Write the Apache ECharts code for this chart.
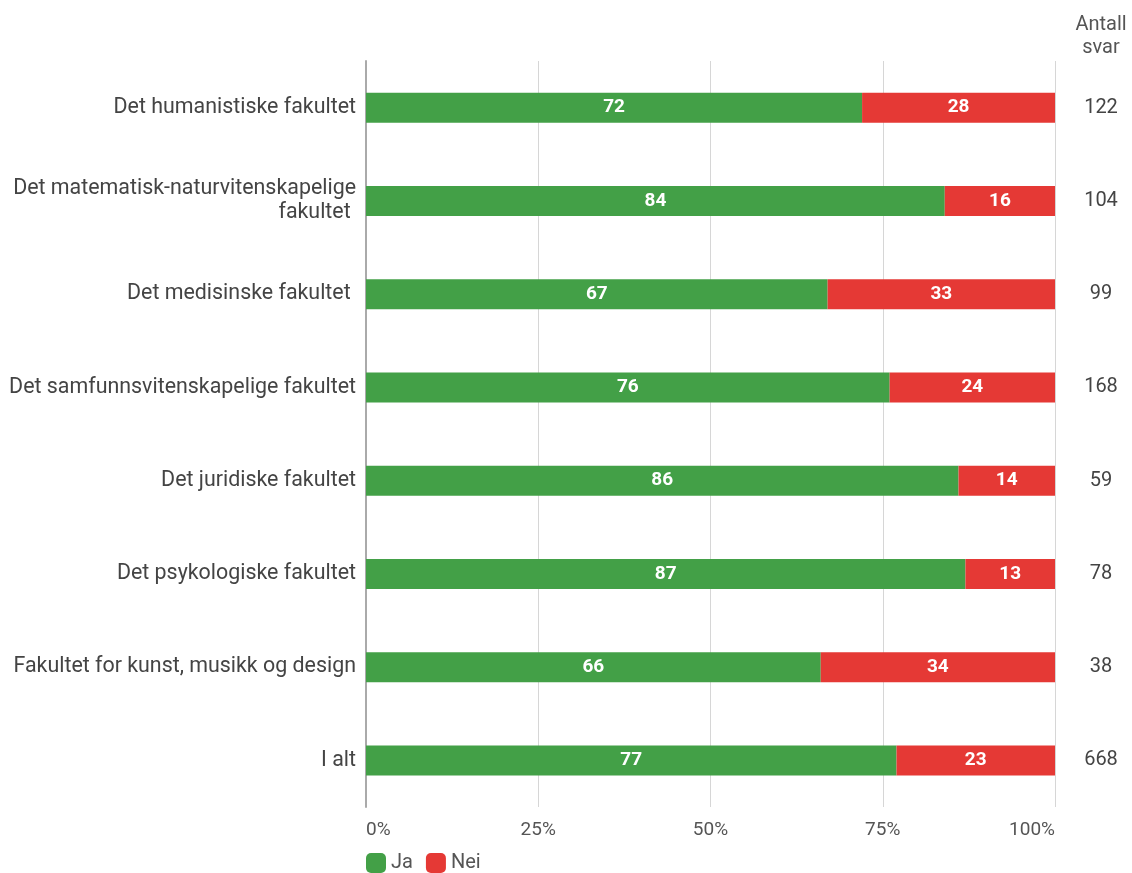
<!DOCTYPE html>
<html><head><meta charset="utf-8">
<script src="https://cdn.jsdelivr.net/npm/echarts@6/dist/echarts.min.js"></script>
<style>html,body{margin:0;padding:0;background:#fff}#c{width:1132px;height:873px}</style>
</head><body><div id="c"></div>
<script>
const categories = ["Det humanistiske fakultet","Det matematisk-naturvitenskapelige\nfakultet ","Det medisinske fakultet ","Det samfunnsvitenskapelige fakultet","Det juridiske fakultet","Det psykologiske fakultet","Fakultet for kunst, musikk og design","I alt"];
const ja = [72,84,67,76,86,87,66,77];
const nei = [28,16,33,24,14,13,34,23];
const antall = [122,104,99,168,59,78,38,668];
const xTicks = [0,25,50,75,100];

const chart = echarts.init(document.getElementById('c'));
const font = 'Roboto';
chart.setOption({
  animation:false,
  textStyle:{fontFamily:font},
  grid:{left:366,right:77,top:61,bottom:66,containLabel:false},
  legend:{left:366,top:853,padding:0,itemWidth:20,itemHeight:20,itemGap:13,icon:'roundRect',
    textStyle:{fontSize:20,color:'#555',fontFamily:font},data:['Ja','Nei']},
  graphic:[{type:'text',x:1101,y:13,style:{text:'Antall\nsvar',fill:'#555',font:'20px Roboto',align:'center',lineHeight:23}}],
  xAxis:{type:'value',min:0,max:100,interval:25,
    axisLine:{show:false},axisTick:{show:false},
    splitLine:{lineStyle:{color:'#d6d6d6',width:1}},
    axisLabel:{formatter:v=>v+'%',fontSize:19,color:'#555',margin:14,fontFamily:font,
      alignMinLabel:'left',alignMaxLabel:'right'}},
  yAxis:[{type:'category',inverse:true,data:categories,
    axisLine:{show:true,lineStyle:{color:'#aaa',width:2}},axisTick:{show:false},
    axisLabel:{fontSize:21.4,color:'#444',margin:10,lineHeight:24,fontFamily:font}},
    {type:'category',inverse:true,position:'right',data:antall.map(String),
    axisLine:{show:false},axisTick:{show:false},
    axisLabel:{fontSize:20,color:'#444',margin:46,align:'center',fontFamily:font}}],
  series:[
    {name:'Ja',type:'bar',stack:'s',barWidth:30,data:ja,itemStyle:{color:'#43a047'},
     label:{show:true,position:'inside',color:'#fff',fontWeight:'bold',fontSize:19,fontFamily:font}},
    {name:'Nei',type:'bar',stack:'s',barWidth:30,data:nei,itemStyle:{color:'#e53935'},
     label:{show:true,position:'inside',color:'#fff',fontWeight:'bold',fontSize:19,fontFamily:font}}
  ]
});
</script></body></html>
